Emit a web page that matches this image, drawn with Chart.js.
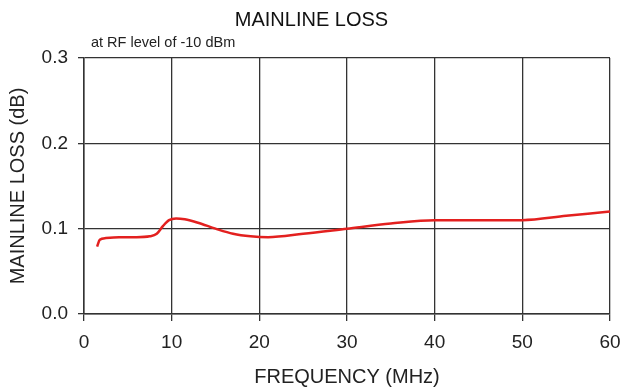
<!DOCTYPE html>
<html>
<head>
<meta charset="utf-8">
<script src="https://cdn.jsdelivr.net/npm/chart.js@4/dist/chart.umd.min.js"></script>
<style>
  html, body { margin: 0; padding: 0; background: #fff; }
  #wrap { width: 623px; height: 391px; }
</style>
</head>
<body>
<div id="wrap"><canvas id="loss"></canvas></div>
<script>
// frequency (MHz) and mainline loss (dB)
const freqMHz = [1.5, 1.8, 2.5, 4, 6, 7.5, 8.3, 9, 9.7, 10.5, 11.5, 13, 15, 17, 19, 21, 25, 30, 35, 40, 45, 50, 55, 60]
const lossDb = [0.079, 0.087, 0.089, 0.090, 0.090, 0.091, 0.094, 0.103, 0.110, 0.112, 0.111, 0.107, 0.100, 0.094, 0.091, 0.090, 0.094, 0.100, 0.106, 0.110, 0.110, 0.110, 0.115, 0.120]

const xTicks = [0, 10, 20, 30, 40, 50, 60]
const yTicks = [0.0, 0.1, 0.2, 0.3]

const chartTitle = 'MAINLINE LOSS'
const chartNote = 'at RF level of -10 dBm'

const FONT = '"Liberation Sans", Arial, sans-serif'
const GRID = '#333'

// small note under the title, aligned with the plot's left edge
const notePlugin = {
  id: 'note',
  afterDraw(chart) {
    const ctx = chart.ctx
    ctx.save()
    ctx.font = '14.5px ' + FONT
    ctx.fillStyle = '#222'
    ctx.textBaseline = 'alphabetic'
    ctx.fillText(chartNote, chart.chartArea.left + 7, 47)
    ctx.restore()
  }
}

const ctx = document.getElementById('loss').getContext('2d')

new Chart(ctx, {
  type: 'line',
  data: {
    datasets: [{
      label: 'Mainline loss',
      data: freqMHz.map((f, i) => ({ x: f, y: lossDb[i] })),
      borderColor: '#e3201f',
      borderWidth: 2.5,
      pointRadius: 0,
      cubicInterpolationMode: 'monotone',
      fill: false
    }]
  },
  plugins: [notePlugin],
  options: {
    responsive: true,
    maintainAspectRatio: false,
    animation: false,
    layout: { padding: 0 },
    plugins: {
      legend: { display: false },
      tooltip: { enabled: false },
      title: {
        display: true,
        text: chartTitle,
        color: '#111',
        font: { family: FONT, size: 20, weight: 'normal' },
        padding: { top: 8, bottom: 26 }
      }
    },
    scales: {
      x: {
        type: 'linear',
        min: 0,
        max: 60,
        afterBuildTicks: (scale) => { scale.ticks = xTicks.map(v => ({ value: v })) },
        afterFit: (scale) => {
          // fixed room below the plot, and a fixed right margin instead of the label-based one
          scale.height = 77
          scale.paddingLeft = 0
          scale.paddingRight = 13
        },
        border: { display: true, color: GRID, width: 1.5 },
        grid: { color: GRID, lineWidth: 1.3, tickLength: 7, drawTicks: true },
        ticks: {
          color: '#222',
          padding: 10,
          font: { family: FONT, size: 19 },
          maxRotation: 0
        },
        title: {
          display: true,
          text: 'FREQUENCY (MHz)',
          color: '#222',
          font: { family: FONT, size: 20 },
          padding: { top: 0, bottom: 2 }
        }
      },
      y: {
        min: 0,
        max: 0.3,
        afterBuildTicks: (scale) => { scale.ticks = yTicks.map(v => ({ value: v })) },
        afterFit: (scale) => { scale.width = 84 },
        border: { display: true, color: GRID, width: 1.5 },
        grid: { color: GRID, lineWidth: 1.3, tickLength: 6 },
        ticks: {
          color: '#222',
          padding: 10,
          font: { family: FONT, size: 19 },
          callback: (v) => Number(v).toFixed(1)
        },
        title: {
          display: true,
          text: 'MAINLINE LOSS (dB)',
          color: '#222',
          font: { family: FONT, size: 20 },
          padding: { top: 6, bottom: 0 }
        }
      }
    }
  }
})
</script>
</body>
</html>
